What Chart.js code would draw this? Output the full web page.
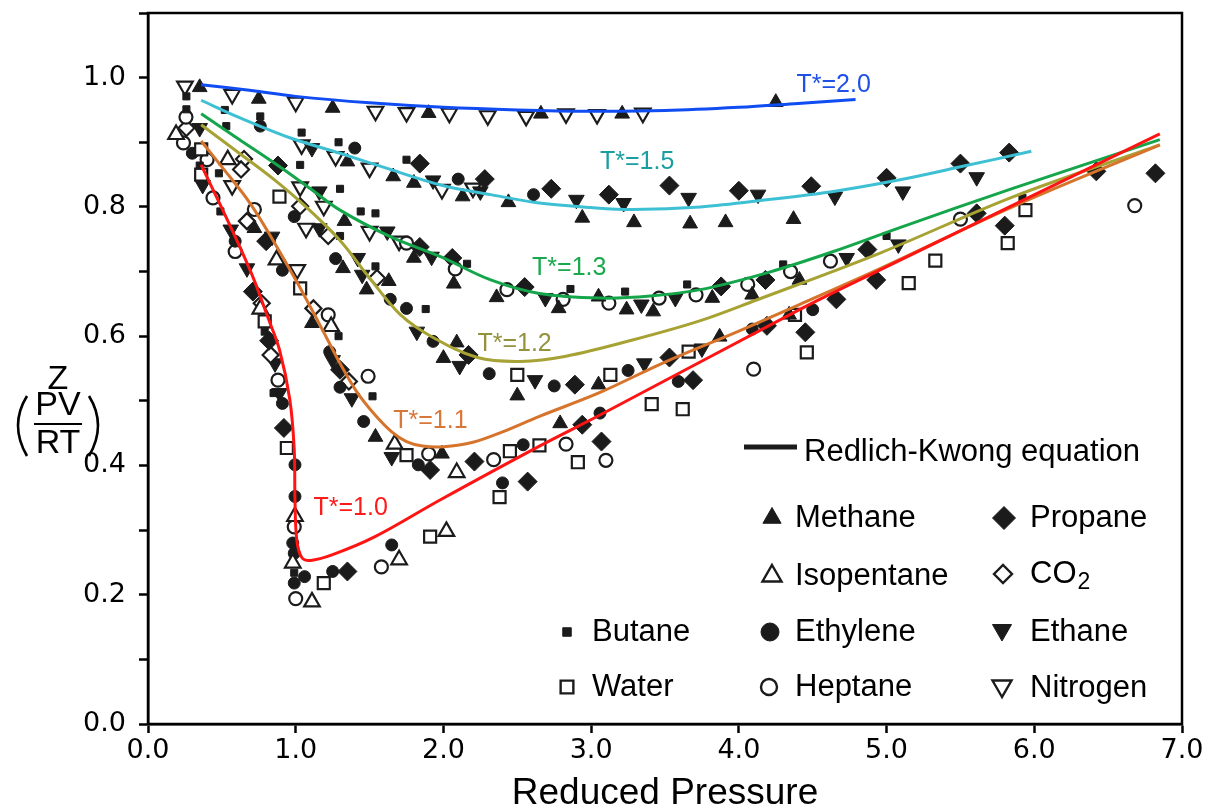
<!DOCTYPE html>
<html>
<head>
<meta charset="utf-8">
<script src="https://cdn.jsdelivr.net/npm/chart.js@4.4.1/dist/chart.umd.min.js"></script>
<style>
html,body{margin:0;padding:0;background:#fff;}
#wrap{width:1205px;height:810px;position:relative;}
</style>
</head>
<body>
<div id="wrap"><canvas id="c" width="1205" height="810"></canvas></div>
<script>
// ---- axis ticks ----
const xTickValues = [0, 1, 2, 3, 4, 5, 6, 7];
const yTickLabels = ['0.0', '0.2', '0.4', '0.6', '0.8', '1.0'];

// ---- Redlich-Kwong curves [Reduced pressure, Z] ----
const rk10 = [[0.36,0.865],[0.50,0.798],[0.62,0.739],[0.72,0.686],[0.81,0.630],[0.89,0.579],[0.96,0.502],[0.99,0.424],[0.995,0.347],[1.007,0.285],[1.04,0.258],[1.10,0.253],[1.25,0.262],[1.53,0.289],[1.98,0.347],[2.65,0.430],[3.06,0.478],[4.41,0.641],[4.96,0.703],[6.85,0.913]];
const rk11 = [[0.36,0.902],[0.50,0.862],[0.69,0.806],[0.85,0.747],[1.01,0.683],[1.16,0.619],[1.30,0.558],[1.41,0.515],[1.53,0.480],[1.65,0.452],[1.75,0.437],[1.86,0.430],[2.00,0.429],[2.20,0.436],[2.40,0.452],[2.65,0.476],[3.06,0.513],[3.50,0.560],[4.00,0.608],[4.41,0.649],[4.96,0.705],[5.86,0.801],[6.85,0.896]];
const rk12 = [[0.36,0.927],[0.60,0.886],[0.85,0.843],[1.07,0.800],[1.30,0.748],[1.50,0.690],[1.71,0.633],[1.93,0.598],[2.23,0.567],[2.52,0.561],[2.83,0.569],[3.28,0.594],[3.74,0.624],[4.12,0.656],[4.96,0.729],[5.86,0.816],[6.85,0.896]];
const rk13 = [[0.36,0.944],[0.62,0.904],[0.88,0.864],[1.10,0.828],[1.30,0.795],[1.64,0.754],[1.98,0.723],[2.32,0.687],[2.65,0.666],[3.06,0.659],[3.40,0.662],[3.74,0.672],[4.19,0.698],[4.64,0.731],[5.09,0.768],[5.86,0.829],[6.85,0.904]];
const rk15 = [[0.36,0.965],[0.62,0.938],[0.96,0.907],[1.30,0.883],[1.64,0.858],[1.98,0.834],[2.32,0.819],[2.65,0.806],[3.00,0.799],[3.28,0.796],[3.74,0.800],[4.19,0.811],[4.64,0.824],[5.09,0.842],[5.50,0.862],[5.98,0.886]];
const rk20 = [[0.36,0.989],[0.70,0.980],[1.00,0.971],[1.50,0.961],[2.00,0.954],[2.50,0.950],[3.00,0.948],[3.50,0.949],[4.00,0.954],[4.40,0.960],[4.79,0.966]];

// ---- curve labels ----
const curveNames = ['T*=1.0', 'T*=1.1', 'T*=1.2', 'T*=1.3', 'T*=1.5', 'T*=2.0'];
const curveLabelX = [1.12, 1.66, 2.23, 2.60, 3.06, 4.39];
const curveLabelY = [0.334, 0.468, 0.587, 0.706, 0.870, 0.989];

// ---- experimental data [Reduced pressure, Z] ----
const methane = [[0.35,0.985],[0.75,0.967],[1.25,0.953],[1.90,0.945],[2.66,0.944],[3.21,0.944],[4.25,0.962],
  [1.35,0.870],[1.66,0.847],[1.80,0.837],[2.13,0.816],[2.44,0.807],[2.94,0.783],[3.29,0.776],[3.67,0.774],[3.91,0.776],[4.37,0.781],
  [1.33,0.778],[1.80,0.721],[2.07,0.681],[2.36,0.660],[2.78,0.643],[3.05,0.661],[3.24,0.641],[3.42,0.638],[3.82,0.659],[4.09,0.664],[4.41,0.687],
  [1.32,0.705],[1.63,0.685],[1.48,0.672],[2.09,0.590],[2.00,0.566],[2.50,0.508],[3.05,0.525],[3.87,0.599],[4.34,0.633],
  [0.72,0.767],[1.11,0.620],[1.54,0.444],[1.99,0.418],[2.79,0.465]];
const isopentane = [[0.19,0.912],[0.54,0.873],[0.87,0.718],[0.76,0.642],[1.24,0.615],[1.67,0.433],[2.09,0.389],[0.995,0.321],[0.98,0.249],[1.11,0.189],[1.70,0.254],[2.02,0.298]];
const butane = [[0.26,0.971],[0.26,0.951],[0.35,0.864],[0.49,0.793],[0.52,0.950],[0.53,0.925],[0.48,0.852],[0.76,0.940],[1.03,0.865],[1.04,0.915],[1.29,0.900],[1.75,0.873],[1.30,0.828],[1.44,0.793],[1.54,0.790],[1.30,0.755],[1.54,0.708],[1.88,0.642],[2.16,0.712],[0.79,0.607],[1.29,0.600],[1.52,0.507],[0.85,0.512],[0.99,0.234],[2.86,0.673],[3.23,0.669],[3.65,0.680],[4.30,0.711],[5.00,0.755],[5.92,0.814]];
const water = [[0.36,0.889],[0.36,0.850],[0.89,0.816],[1.03,0.674],[0.79,0.623],[0.94,0.427],[1.19,0.218],[1.75,0.416],[1.91,0.290],[2.45,0.422],[2.65,0.431],[2.38,0.351],[2.50,0.540],[3.13,0.540],[3.66,0.576],[2.91,0.405],[3.41,0.495],[3.62,0.487],[4.38,0.633],[4.46,0.575],[5.15,0.682],[5.33,0.717],[5.82,0.744],[5.94,0.795]];
const ethylene = [[0.30,0.883],[0.76,0.925],[1.40,0.891],[2.10,0.843],[2.61,0.819],[0.99,0.785],[1.27,0.720],[1.64,0.657],[1.75,0.643],[0.59,0.747],[0.91,0.702],[0.91,0.496],[0.995,0.401],[0.995,0.352],[0.98,0.280],[0.99,0.264],[1.06,0.228],[0.99,0.218],[1.25,0.236],[1.65,0.277],[1.23,0.576],[1.30,0.521],[1.46,0.468],[1.83,0.401],[1.93,0.592],[2.31,0.542],[2.54,0.432],[2.40,0.373],[2.75,0.523],[3.25,0.547],[4.09,0.611],[3.59,0.530],[3.06,0.481],[4.50,0.641]];
const heptane = [[0.257,0.939],[0.24,0.899],[0.40,0.873],[0.44,0.814],[0.59,0.731],[0.72,0.796],[1.22,0.633],[1.75,0.744],[2.08,0.704],[2.43,0.672],[0.88,0.532],[0.99,0.305],[1.00,0.194],[1.58,0.243],[1.49,0.538],[1.90,0.418],[2.34,0.409],[2.83,0.433],[3.10,0.408],[4.10,0.549],[2.81,0.657],[3.12,0.651],[3.46,0.659],[3.71,0.664],[4.06,0.680],[4.35,0.700],[4.62,0.716],[5.50,0.781],[6.68,0.802]];
const propane = [[0.88,0.864],[1.84,0.867],[2.28,0.843],[2.73,0.828],[3.12,0.819],[3.53,0.833],[4.00,0.825],[4.49,0.832],[5.00,0.845],[5.50,0.867],[5.83,0.884],[1.84,0.738],[2.06,0.721],[2.55,0.676],[3.88,0.677],[4.18,0.687],[4.87,0.734],[4.93,0.687],[4.66,0.657],[5.61,0.790],[5.80,0.771],[6.42,0.855],[6.82,0.852],[0.80,0.747],[0.71,0.669],[0.82,0.593],[0.92,0.458],[1.30,0.548],[1.35,0.236],[1.91,0.393],[2.21,0.406],[2.57,0.375],[2.17,0.571],[2.89,0.525],[3.53,0.567],[4.19,0.616],[3.69,0.532],[2.94,0.463],[3.07,0.437],[4.45,0.606]];
const co2 = [[0.26,0.922],[0.65,0.874],[0.63,0.858],[0.67,0.778],[1.03,0.801],[1.22,0.755],[1.55,0.690],[1.12,0.643],[0.77,0.651],[0.83,0.571],[1.36,0.530]];
const ethane = [[0.35,0.922],[0.37,0.834],[1.11,0.891],[1.93,0.841],[2.25,0.824],[2.90,0.811],[3.22,0.806],[3.66,0.814],[4.13,0.819],[4.65,0.816],[5.11,0.824],[5.61,0.846],[1.16,0.824],[1.16,0.767],[1.62,0.762],[1.92,0.723],[1.42,0.721],[1.45,0.695],[0.56,0.765],[0.84,0.754],[0.67,0.705],[0.86,0.558],[0.89,0.512],[1.25,0.563],[1.38,0.504],[1.65,0.413],[1.82,0.607],[2.11,0.554],[2.62,0.532],[3.36,0.558],[3.75,0.581],[2.69,0.659],[3.34,0.649],[3.57,0.659],[4.73,0.721],[5.08,0.742]];
const nitrogen = [[0.25,0.987],[0.57,0.974],[1.00,0.962],[1.54,0.948],[1.75,0.946],[2.04,0.945],[2.30,0.941],[2.56,0.940],[2.83,0.944],[3.04,0.943],[3.35,0.945],[1.04,0.896],[1.27,0.878],[1.50,0.860],[1.99,0.827],[2.20,0.829],[0.57,0.833],[1.03,0.831],[1.19,0.801],[1.07,0.767],[1.50,0.762],[1.70,0.747],[1.01,0.703]];

// ---- styles ----
const INK = '#1b1b1b';
const curveColors = ['#ff1414', '#d6742c', '#a6a233', '#15a64b', '#3ec0d4', '#0f4cf2'];
const labelColors = ['#ff1a1a', '#d8773a', '#94923c', '#19a84c', '#1a9ea2', '#1f50e8'];
const FONT = '"Liberation Sans", Arial, sans-serif';

const pts = arr => arr.map(p => ({x: p[0], y: p[1]}));

function markerSet(label, arr, style, r, filled, rot) {
  return {
    label, data: pts(arr), showLine: false, order: 1,
    pointStyle: style, pointRadius: r, pointHoverRadius: r, pointRotation: rot || 0,
    pointBackgroundColor: filled ? INK : '#ffffff',
    pointBorderColor: INK, pointBorderWidth: filled ? 1 : 2.2
  };
}
function curveSet(label, arr, color) {
  return {
    label, data: pts(arr), showLine: true, order: 0,
    borderColor: color, borderWidth: 3, pointRadius: 0, pointHoverRadius: 0,
    tension: 0.35, fill: false
  };
}

const markerDefs = [
  ['Methane', methane, 'triangle', 8.5, true, 0],
  ['Isopentane', isopentane, 'triangle', 9, false, 0],
  ['Butane', butane, 'rect', 5, true, 0],
  ['Water', water, 'rect', 8.5, false, 0],
  ['Ethylene', ethylene, 'circle', 6, true, 0],
  ['Heptane', heptane, 'circle', 6.5, false, 0],
  ['Propane', propane, 'rectRot', 9.5, true, 0],
  ['CO2', co2, 'rectRot', 8, false, 0],
  ['Ethane', ethane, 'triangle', 9, true, 180],
  ['Nitrogen', nitrogen, 'triangle', 9, false, 180]
];

const datasets = [
  curveSet('T*=1.0', rk10, curveColors[0]),
  curveSet('T*=1.1', rk11, curveColors[1]),
  curveSet('T*=1.2', rk12, curveColors[2]),
  curveSet('T*=1.3', rk13, curveColors[3]),
  curveSet('T*=1.5', rk15, curveColors[4]),
  curveSet('T*=2.0', rk20, curveColors[5])
].concat(markerDefs.map(d => markerSet(d[0], d[1], d[2], d[3], d[4], d[5])));

function drawMarker(ctx, style, r, x, y, rot, filled) {
  ctx.save();
  ctx.fillStyle = filled ? INK : '#ffffff';
  ctx.strokeStyle = INK;
  ctx.lineWidth = filled ? 1 : 2.4;
  Chart.helpers.drawPoint(ctx, {pointStyle: style, radius: r, rotation: rot, borderWidth: ctx.lineWidth}, x, y);
  ctx.restore();
}

const decorations = {
  id: 'decorations',
  afterDatasetsDraw(chart) {
    const {ctx, chartArea: a, scales: {x, y}} = chart;
    ctx.save();
    // frame
    ctx.strokeStyle = '#000';
    ctx.lineWidth = 2.5;
    ctx.strokeRect(a.left, a.top, a.right - a.left, a.bottom - a.top);

    // curve labels
    ctx.textAlign = 'left';
    ctx.textBaseline = 'middle';
    ctx.font = '25px ' + FONT;
    curveNames.forEach((t, i) => {
      ctx.fillStyle = labelColors[i];
      ctx.fillText(t, x.getPixelForValue(curveLabelX[i]), y.getPixelForValue(curveLabelY[i]));
    });

    // x title
    ctx.fillStyle = '#000';
    ctx.textAlign = 'center';
    ctx.font = '37px ' + FONT;
    ctx.fillText('Reduced Pressure', (a.left + a.right) / 2, 794);

    // y title
    const cx = 58;
    ctx.font = '34px ' + FONT;
    ctx.fillText('Z', cx, 380);
    ctx.fillText('PV', cx, 406);
    ctx.fillText('RT', cx, 444);
    ctx.lineWidth = 2;
    ctx.beginPath(); ctx.moveTo(cx - 24, 424); ctx.lineTo(cx + 24, 424); ctx.stroke();
    ctx.lineWidth = 2.6;
    ctx.beginPath(); ctx.moveTo(cx - 31, 396); ctx.quadraticCurveTo(cx - 49, 425, cx - 31, 456); ctx.stroke();
    ctx.beginPath(); ctx.moveTo(cx + 31, 396); ctx.quadraticCurveTo(cx + 49, 425, cx + 31, 456); ctx.stroke();

    // legend
    ctx.lineWidth = 5;
    ctx.strokeStyle = INK;
    ctx.beginPath(); ctx.moveTo(744, 447); ctx.lineTo(797, 447); ctx.stroke();
    ctx.textAlign = 'left';
    ctx.fillStyle = '#000';
    ctx.font = '31px ' + FONT;
    ctx.fillText('Redlich-Kwong equation', 804, 452);

    const legendItems = [
      // name, marker x, text x, row y, style, r, filled, rot
      ['Methane', 772, 795, 518, 'triangle', 10.5, true, 0],
      ['Isopentane', 772, 795, 576, 'triangle', 11, false, 0],
      ['Ethylene', 770, 795, 632, 'circle', 9, true, 0],
      ['Heptane', 769, 795, 687, 'circle', 8, false, 0],
      ['Propane', 1004, 1030, 518, 'rectRot', 11.5, true, 0],
      ['CO', 1003, 1030, 574, 'rectRot', 9, false, 0],
      ['Ethane', 1002, 1030, 630, 'triangle', 11, true, 180],
      ['Nitrogen', 1002, 1030, 686, 'triangle', 11, false, 180],
      ['Butane', 567, 592, 632, 'rect', 6, true, 0],
      ['Water', 567, 592, 687, 'rect', 9, false, 0]
    ];
    legendItems.forEach(it => {
      drawMarker(ctx, it[4], it[5], it[1], it[3], it[7], it[6]);
      ctx.fillStyle = '#000';
      ctx.font = '31px ' + FONT;
      ctx.fillText(it[0], it[2], it[3] + (it[4] === 'triangle' && it[7] === 180 ? 2 : 0));
      if (it[0] === 'CO') {
        const w = ctx.measureText('CO').width;
        ctx.font = '23px ' + FONT;
        ctx.fillText('2', it[2] + w + 1, it[3] + 9);
      }
    });
    ctx.restore();
  }
};

const noPad = s => { s.paddingTop = 0; s.paddingBottom = 0; s.paddingLeft = 0; s.paddingRight = 0; };

new Chart(document.getElementById('c'), {
  type: 'scatter',
  data: {datasets},
  options: {
    responsive: false,
    animation: false,
    events: [],
    layout: {padding: {left: 0, right: 23, top: 13, bottom: 0}},
    plugins: {legend: {display: false}, tooltip: {enabled: false}},
    scales: {
      x: {
        type: 'linear', min: 0, max: 7,
        afterFit: s => { s.height = 86; noPad(s); },
        afterBuildTicks: s => { s.ticks = xTickValues.map(v => ({value: v})); },
        border: {display: true, color: '#000', width: 2.5},
        grid: {display: true, drawOnChartArea: false, drawTicks: true, tickLength: 9, tickWidth: 2.5, tickColor: '#000'},
        ticks: {color: '#000', padding: 2, maxRotation: 0, autoSkip: false,
          font: {family: '"DejaVu Sans", sans-serif', size: 27},
          callback: v => Number(v).toFixed(1)}
      },
      y: {
        type: 'linear', min: 0, max: 1.1,
        afterFit: s => { s.width = 148; noPad(s); },
        afterBuildTicks: s => { const t = []; for (let k = 0; k <= 11; k++) t.push({value: k / 10}); s.ticks = t; },
        border: {display: true, color: '#000', width: 2.5},
        grid: {display: true, drawOnChartArea: false, drawTicks: true, tickLength: 9, tickWidth: 2.5, tickColor: '#000'},
        ticks: {color: '#000', padding: 13, autoSkip: false,
          font: {family: '"DejaVu Sans", sans-serif', size: 27},
          callback: v => { const k = Math.round(v * 10); return (k % 2 === 0 && k <= 10) ? yTickLabels[k / 2] : ''; }}
      }
    }
  },
  plugins: [decorations]
});
</script>
</body>
</html>
